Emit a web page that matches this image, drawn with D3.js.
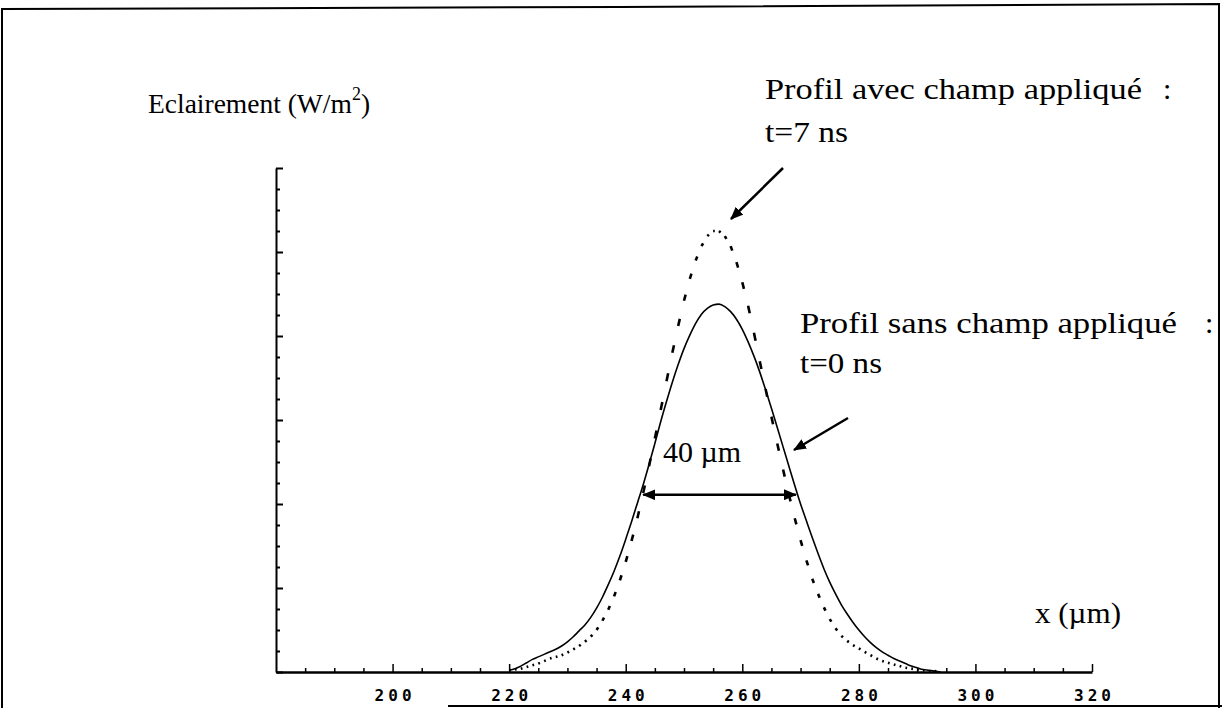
<!DOCTYPE html>
<html><head><meta charset="utf-8">
<script src="https://cdn.jsdelivr.net/npm/d3@7/dist/d3.min.js"></script>
<style>
body{margin:0;background:#fff;}
svg{display:block;}
.serif{font-family:"Liberation Serif","Times New Roman",serif;fill:#000;}
.tick-lbl{font-family:"DejaVu Sans Mono",monospace;font-weight:bold;font-size:16px;letter-spacing:4px;fill:#000;}
</style>
</head><body>
<svg id="chart" width="1222" height="708"></svg>
<script>
// ---- data ----
const xPositions = [220,221,222,223,224,225,226,227,228,229,230,231,232,233,234,235,236,237,238,239,
  240,241,242,243,244,245,246,247,248,249,250,251,252,253,254,255,256,257,258,259,
  260,261,262,263,264,265,266,267,268,269,270,271,272,273,274,275,276,277,278,279,
  280,281,282,283,284,285,286,287,288,289,290,291,292,293,294];
// Profil sans champ appliqué : t=0 ns (solid)
const profileNoField = [0.02,0.04,0.07,0.11,0.15,0.18,0.21,0.24,0.27,0.31,0.36,0.42,0.49,0.56,0.65,0.76,0.89,1.04,1.20,1.38,
  1.58,1.79,2.01,2.23,2.47,2.72,2.98,3.22,3.45,3.66,3.85,4.01,4.15,4.26,4.33,4.37,4.38,4.35,4.29,4.20,
  4.08,3.93,3.76,3.57,3.36,3.14,2.91,2.68,2.45,2.22,2.00,1.80,1.60,1.41,1.23,1.07,0.93,0.80,0.69,0.59,
  0.50,0.42,0.35,0.29,0.24,0.20,0.16,0.13,0.10,0.07,0.05,0.03,0.02,0.01,0.00];
// Profil avec champ appliqué : t=7 ns (dotted)
const profileWithField = [0.02,0.03,0.04,0.06,0.08,0.10,0.13,0.16,0.18,0.20,0.23,0.27,0.31,0.36,0.42,0.50,0.61,0.74,0.90,1.09,
  1.31,1.56,1.83,2.13,2.45,2.78,3.12,3.46,3.80,4.12,4.42,4.68,4.90,5.07,5.19,5.25,5.25,5.19,5.07,4.88,
  4.64,4.36,4.04,3.70,3.37,3.04,2.72,2.41,2.11,1.83,1.57,1.33,1.11,0.93,0.77,0.63,0.52,0.43,0.37,0.32,
  0.28,0.24,0.20,0.16,0.13,0.11,0.09,0.07,0.05,0.04,0.03,0.02,0.01,0.01,0.00];
const xTickLabels = [200,220,240,260,280,300,320];
const xMinorTicks = [185,190,195,205,210,215,225,230,235,245,250,255,265,270,275,285,290,295,305,310,315];
const yMajorTicks = [0,1,2,3,4,5,6];
const yMinorTicks = [0.25,0.5,0.75,1.25,1.5,1.75,2.25,2.5,2.75,3.25,3.5,3.75,4.25,4.5,4.75,5.25,5.5,5.75];
const xDomain = [180, 320];
const yDomain = [0, 6];
const widthMarker = [243, 269.2];   // "40 µm" double arrow ends
const widthMarkerLevel = 2.11;

// ---- layout ----
const svg = d3.select("#chart");
const x = d3.scaleLinear().domain(xDomain).range([276, 1092]);
const y = d3.scaleLinear().domain(yDomain).range([672, 168]);

// frame
svg.append("path").attr("d","M2,708 L2,9 L620,7 L1219,4 L1219,708")
  .attr("fill","none").attr("stroke","#000").attr("stroke-width",2);
svg.append("line").attr("x1",448).attr("x2",1222).attr("y1",706).attr("y2",706)
  .attr("stroke","#000").attr("stroke-width",2);

// markers
const defs = svg.append("defs");
defs.append("marker").attr("id","ah").attr("viewBox","0 0 12 10").attr("refX",11).attr("refY",5)
  .attr("markerWidth",13).attr("markerHeight",11).attr("markerUnits","userSpaceOnUse")
  .attr("orient","auto-start-reverse")
  .append("path").attr("d","M0,0 L12,5 L0,10 Z").attr("fill","#000");

// x axis
const gx = svg.append("g").attr("transform","translate(0,672)");
gx.call(d3.axisBottom(x).tickValues(xTickLabels).tickSize(-8).tickSizeOuter(0).tickPadding(18).tickFormat(d3.format("d")));
gx.attr("font-size",null).attr("font-family",null);
gx.select(".domain").attr("stroke-width",2.5);
gx.selectAll(".tick line").attr("stroke-width",1.5);
gx.selectAll(".tick text").attr("class","tick-lbl").attr("dx","2px");
const gxm = svg.append("g").attr("transform","translate(0,672)");
gxm.call(d3.axisBottom(x).tickValues(xMinorTicks).tickSize(-4).tickSizeOuter(0).tickFormat(""));
gxm.select(".domain").remove();
gxm.selectAll(".tick line").attr("stroke-width",1.5);

// y axis
const gy = svg.append("g").attr("transform","translate(276,0)");
gy.call(d3.axisLeft(y).tickValues(yMajorTicks).tickSize(-7).tickSizeOuter(0).tickFormat(""));
gy.select(".domain").attr("stroke-width",2);
gy.selectAll(".tick line").attr("stroke-width",2);
const gym = svg.append("g").attr("transform","translate(276,0)");
gym.call(d3.axisLeft(y).tickValues(yMinorTicks).tickSize(-4).tickSizeOuter(0).tickFormat(""));
gym.select(".domain").remove();
gym.selectAll(".tick line").attr("stroke-width",2);

// solid profile
const pts0 = xPositions.map((v,i)=>[x(v), y(profileNoField[i])]);
svg.append("path").attr("d", d3.line().curve(d3.curveMonotoneX)(pts0))
  .attr("fill","none").attr("stroke","#000").attr("stroke-width",1.6);

// dotted profile: one short dash per sample
const pts7 = xPositions.map((v,i)=>[x(v), y(profileWithField[i])]);
const dashes = d3.pairs(pts7);
svg.append("g").selectAll("line").data(dashes).join("line")
  .attr("x1",d=>d[0][0]).attr("y1",d=>d[0][1])
  .attr("x2",d=>d[0][0]+0.28*(d[1][0]-d[0][0]))
  .attr("y2",d=>d[0][1]+0.28*(d[1][1]-d[0][1]))
  .attr("stroke","#000").attr("stroke-width",2.6);

// width double arrow
svg.append("line")
  .attr("x1",x(widthMarker[0])).attr("x2",x(widthMarker[1]))
  .attr("y1",y(widthMarkerLevel)).attr("y2",y(widthMarkerLevel))
  .attr("stroke","#000").attr("stroke-width",2.5)
  .attr("marker-start","url(#ah)").attr("marker-end","url(#ah)");

// annotation arrows
svg.append("line").attr("x1",783).attr("y1",168).attr("x2",731).attr("y2",219)
  .attr("stroke","#000").attr("stroke-width",2.5).attr("marker-end","url(#ah)");
svg.append("line").attr("x1",848).attr("y1",418).attr("x2",794).attr("y2",450)
  .attr("stroke","#000").attr("stroke-width",2.5).attr("marker-end","url(#ah)");

// texts
function txt(s, xx, yy, size, len){
  const t = svg.append("text").attr("class","serif").attr("x",xx).attr("y",yy)
    .attr("font-size",size).text(s);
  if(len){ t.attr("textLength",len).attr("lengthAdjust","spacingAndGlyphs"); }
  return t;
}
// y-axis title with superscript in a single text element
const yt = svg.append("text").attr("class","serif").attr("x",148).attr("y",113).attr("font-size",27.5);
yt.append("tspan").text("Eclairement (W/m");
yt.append("tspan").attr("font-size",18).attr("dy",-13).text("2");
yt.append("tspan").attr("dy",13).text(")");

txt("Profil avec champ appliqué", 765, 99, 30, 377);
txt(":", 1163, 99, 30);
txt("t=7 ns", 765, 142, 30, 83);
txt("Profil sans champ appliqué", 800, 333, 30, 377);
txt(":", 1205, 333, 30);
txt("t=0 ns", 800, 373, 30, 82);
txt("40 µm", 663, 462, 30);
txt("x (µm)", 1035, 623, 30, 86);
</script>
</body></html>
